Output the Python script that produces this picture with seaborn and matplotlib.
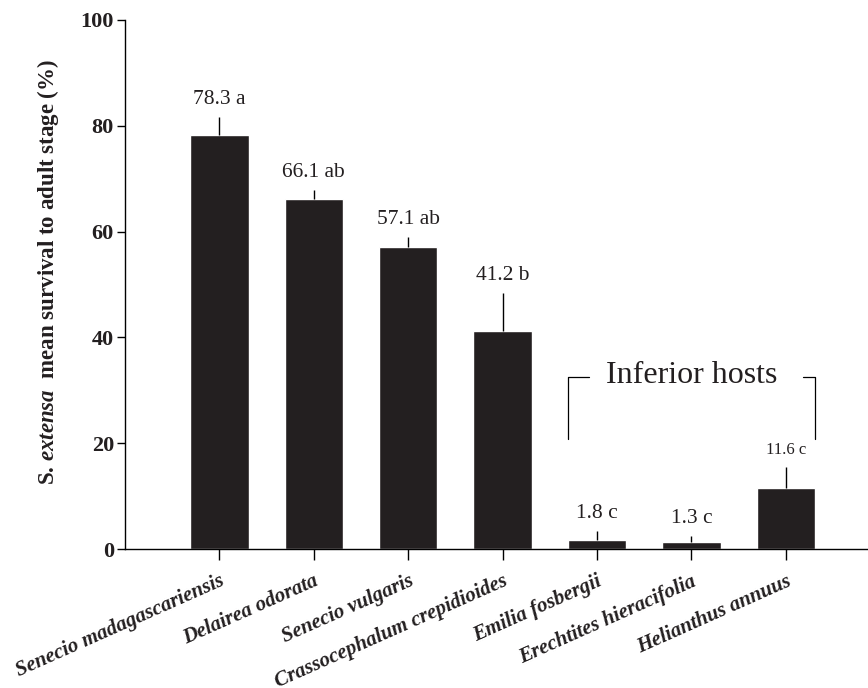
import matplotlib
matplotlib.use("Agg")
import matplotlib.pyplot as plt
import seaborn as sns
import pandas as pd

# Host plants and larval survival to adult stage (%)
species = ["Senecio madagascariensis", "Delairea odorata", "Senecio vulgaris",
           "Crassocephalum crepidioides", "Emilia fosbergii",
           "Erechtites hieracifolia", "Helianthus annuus"]
mean_survival = [78.3, 66.1, 57.1, 41.2, 1.8, 1.3, 11.6]
se_survival = [3.4, 1.8, 1.9, 7.2, 1.6, 1.2, 3.9]
letters = ["a", "ab", "ab", "b", "c", "c", "c"]
y_ticks = [0, 20, 40, 60, 80, 100]

df = pd.DataFrame({"species": species, "mean": mean_survival, "se": se_survival})

sns.set_style("ticks")
plt.rcParams["font.family"] = ["Liberation Serif", "DejaVu Serif"]
plt.rcParams["mathtext.fontset"] = "custom"
plt.rcParams["mathtext.it"] = "Liberation Serif:italic:bold"
plt.rcParams["mathtext.rm"] = "Liberation Serif:bold"

fig = plt.figure(figsize=(8.68, 6.88), dpi=100)
ax = fig.add_axes([0.144, 0.202, 0.856, 0.769])

bar_color = "#231f20"
sns.barplot(data=df, x="species", y="mean", order=species, color=bar_color,
            width=0.62, errorbar=None, saturation=1, ax=ax)

# upper half of the standard error only
xs = list(range(len(species)))
tops = [m + s for m, s in zip(mean_survival, se_survival)]
ax.vlines(xs, mean_survival, tops, color="black", linewidth=1.0, zorder=3)

for i, (m, t, l) in enumerate(zip(mean_survival, tops, letters)):
    small = i == len(species) - 1
    ax.annotate(f"{m} {l}", xy=(i, t), xytext=(0, 12.5), textcoords="offset points",
                ha="center", va="center", fontsize=12 if small else 15.5,
                color="#231f20")

ax.set_ylim(0, 100)
ax.set_xlim(-1.0, 6.87)
ax.set_yticks(y_ticks)
ax.set_yticklabels([str(t) for t in y_ticks], fontsize=16, fontweight="bold")
ax.set_xticks(xs)
ax.set_xticklabels(species, rotation=24, ha="right", rotation_mode="anchor",
                   fontsize=15, fontweight="bold", fontstyle="italic")
ax.tick_params(axis="y", length=6, width=1, direction="out", pad=2, colors="black")
ax.tick_params(axis="x", length=8, width=1, direction="out", pad=8, colors="black")
for lab in ax.get_xticklabels() + ax.get_yticklabels():
    lab.set_color("#231f20")

ax.set_xlabel("")
ax.set_ylabel(r"S. $extensa$  mean survival to adult stage (%)",
              fontsize=16.5, fontweight="bold", color="#231f20")
ax.yaxis.set_label_coords(-0.086, 0.523)

for side in ["top", "right"]:
    ax.spines[side].set_visible(False)
for side in ["left", "bottom"]:
    ax.spines[side].set_linewidth(1.0)
    ax.spines[side].set_color("black")

# bracket grouping the inferior hosts
bx0, bx1, bx2, bx3 = 3.69, 3.91, 6.18, 6.31
by_top, by_bot = 32.5, 20.8
ax.plot([bx0, bx0, bx1], [by_bot, by_top, by_top], color="black", linewidth=0.9,
        clip_on=False)
ax.plot([bx2, bx3, bx3], [by_top, by_top, by_bot], color="black", linewidth=0.9,
        clip_on=False)
ax.text((bx0 + bx3) / 2, by_top + 0.3, "Inferior hosts", ha="center", va="center",
        fontsize=23, color="#231f20")

fig.savefig("out.png", dpi=100)
